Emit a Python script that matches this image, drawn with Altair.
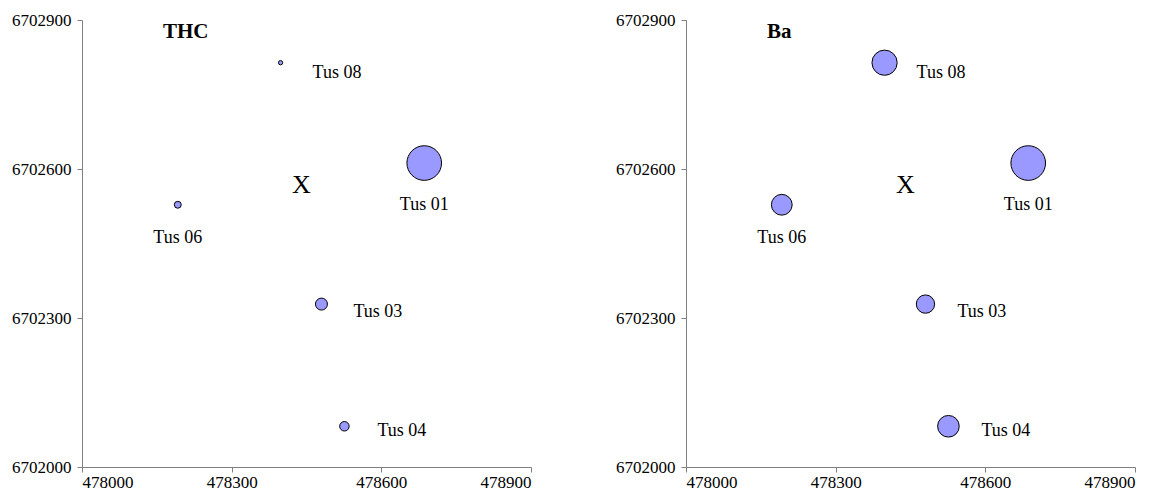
import altair as alt
import pandas as pd

# ---- data ----
sites = ["Tus 01", "Tus 03", "Tus 04", "Tus 06", "Tus 08"]
easting = [478686, 478480, 478526, 478192, 478398]
northing = [6702612, 6702328, 6702082, 6702528, 6702814]
thc = [100, 12, 7.5, 4, 1.5]
ba = [100, 28, 39, 36, 53]

centre_label = ["X"]
centre_east = [478440]
centre_north = [6702568]

x_ticks = [478000, 478300, 478600, 478900]
y_ticks = [6702000, 6702300, 6702600, 6702900]

# ---- style ----
FONT = "Liberation Serif"
label_place = {  # per-site label offset (pixels) and alignment
    "Tus 01": dict(dx=0, dy=42, align="center"),
    "Tus 06": dict(dx=0, dy=33, align="center"),
    "Tus 08": dict(dx=32, dy=10, align="left"),
    "Tus 03": dict(dx=32, dy=8, align="left"),
    "Tus 04": dict(dx=33, dy=5, align="left"),
}

W, H = 449, 447

xs = alt.Scale(domain=[478000, 478900], nice=False, zero=False)
ys = alt.Scale(domain=[6702000, 6702900], nice=False, zero=False)
size_scale = alt.Scale(domain=[0, 100], range=[0, 1200], zero=True)

xaxis = alt.Axis(values=x_ticks, format="d", title=None, grid=False,
                 labelPadding=2)
yaxis = alt.Axis(values=y_ticks, format="d", title=None, grid=False,
                 labelPadding=6, minExtent=70, maxExtent=70)


def panel(values, title):
    df = pd.DataFrame({"site": sites, "east": easting, "north": northing,
                       "value": values})
    base = alt.Chart(df)
    bubbles = base.mark_circle(opacity=1, color="#9999ff", stroke="black",
                               strokeWidth=1).encode(
        x=alt.X("east:Q", scale=xs, axis=xaxis),
        y=alt.Y("north:Q", scale=ys, axis=yaxis),
        size=alt.Size("value:Q", scale=size_scale, legend=None),
    )
    layers = [bubbles]
    for s, p in label_place.items():
        layers.append(
            base.transform_filter(alt.datum.site == s).mark_text(
                font=FONT, fontSize=18, color="black", align=p["align"],
                baseline="middle", dx=p["dx"], dy=p["dy"]
            ).encode(x=alt.X("east:Q", scale=xs), y=alt.Y("north:Q", scale=ys),
                     text="site:N")
        )
    cdf = pd.DataFrame({"t": centre_label, "east": centre_east,
                        "north": centre_north})
    layers.append(
        alt.Chart(cdf).mark_text(font=FONT, fontSize=26, color="black",
                                 baseline="middle").encode(
            x=alt.X("east:Q", scale=xs), y=alt.Y("north:Q", scale=ys),
            text="t:N")
    )
    tdf = pd.DataFrame({"t": [title]})
    layers.append(
        alt.Chart(tdf).mark_text(font=FONT, fontSize=21, fontWeight="bold",
                                 color="black", align="left",
                                 baseline="middle").encode(
            x=alt.value(81), y=alt.value(12), text="t:N")
    )
    return alt.layer(*layers).properties(width=W, height=H)


chart = alt.hconcat(
    panel(thc, "THC"), panel(ba, "Ba"), spacing=83,
    padding={"left": 3, "top": 3, "right": 5, "bottom": 5},
).configure_view(
    stroke=None
).configure_axis(
    domainColor="#808080", tickColor="#808080", tickSize=5,
    labelFont=FONT, labelFontSize=17, labelColor="black",
)

chart.save("out.html", embed_options={"renderer": "svg", "actions": False})
